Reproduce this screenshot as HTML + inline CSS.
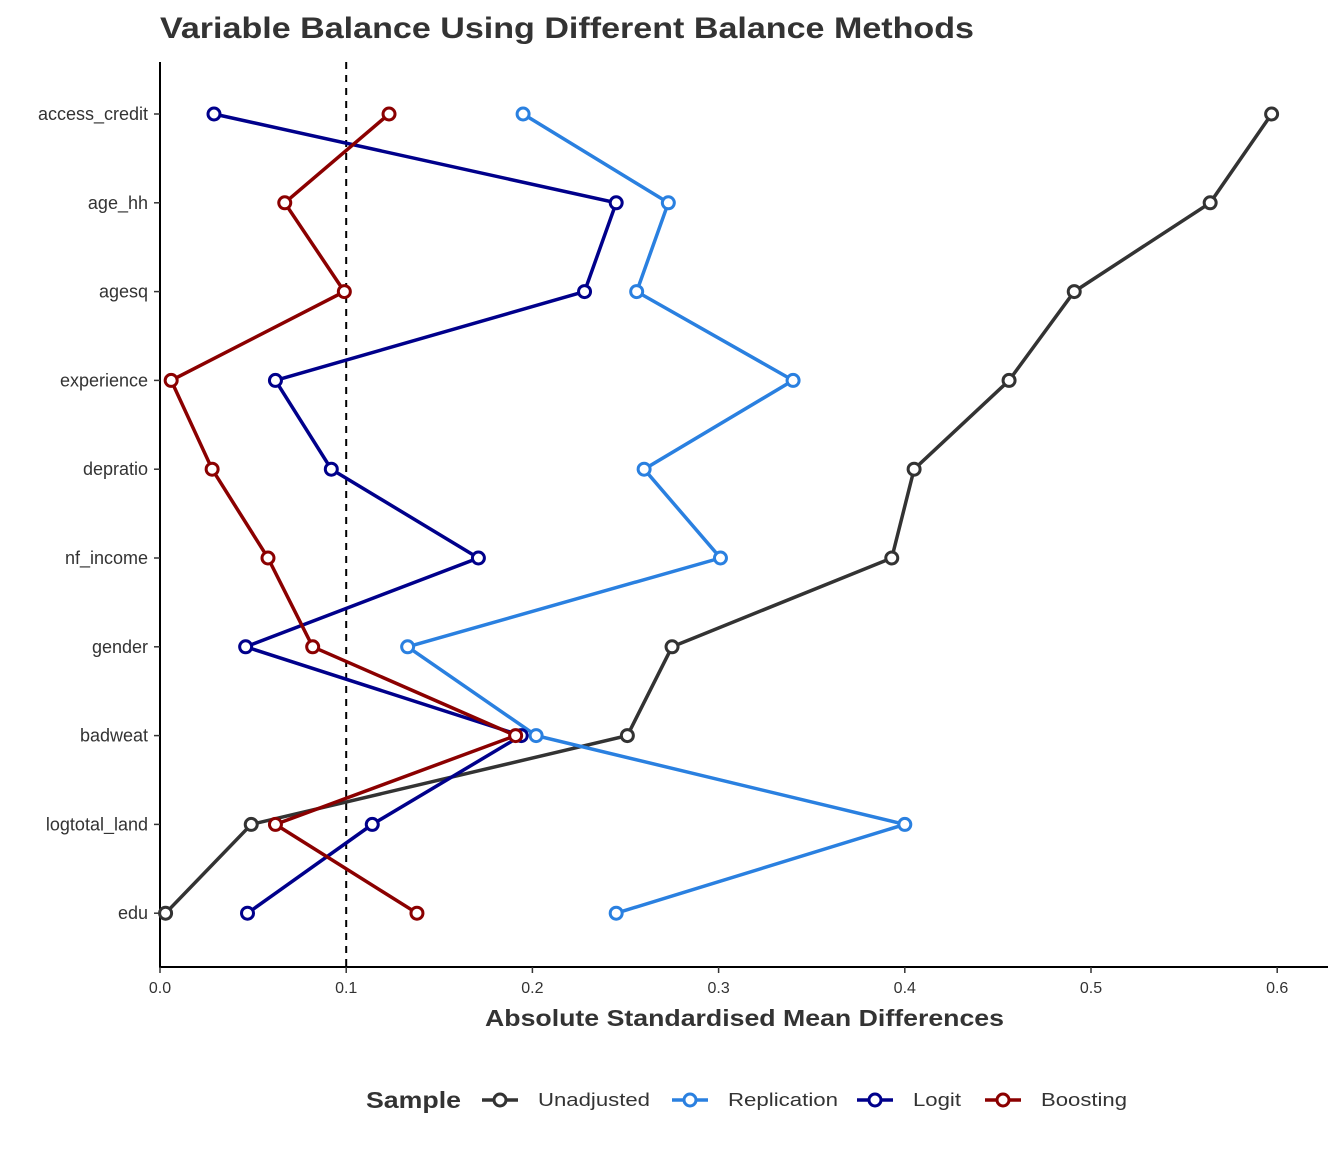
<!DOCTYPE html>
<html><head><meta charset="utf-8"><style>
body{margin:0;background:#fff;font-family:"Liberation Sans",sans-serif;}
svg text{font-family:"Liberation Sans",sans-serif;}
</style></head><body>
<svg id="chart" width="1344" height="1152" xmlns="http://www.w3.org/2000/svg">
<text x="160" y="38" font-size="30" font-weight="bold" fill="#333" textLength="814" lengthAdjust="spacingAndGlyphs">Variable Balance Using Different Balance Methods</text>
<g id="plot"></g>
</svg>
<script>
const categories=["access_credit","age_hh","agesq","experience","depratio","nf_income","gender","badweat","logtotal_land","edu"];
const unadjusted=[0.597,0.564,0.491,0.456,0.405,0.393,0.275,0.251,0.049,0.003];
const replication=[0.195,0.273,0.256,0.340,0.260,0.301,0.133,0.202,0.400,0.245];
const logit=[0.029,0.245,0.228,0.062,0.092,0.171,0.046,0.194,0.114,0.047];
const boosting=[0.123,0.067,0.099,0.006,0.028,0.058,0.082,0.191,0.062,0.138];
const xTicks=[0,0.1,0.2,0.3,0.4,0.5,0.6];
const xTickLabels=["0.0","0.1","0.2","0.3","0.4","0.5","0.6"];
const threshold=0.1;
const seriesNames=["Unadjusted","Replication","Logit","Boosting"];
const seriesColors=["#333333","#2a80e0","#00008b","#8b0000"];
const seriesData=[unadjusted,replication,logit,boosting];

const NS="http://www.w3.org/2000/svg";
const g=document.getElementById('plot');
const x=v=>160+v*1862;
const y=i=>114+i*88.8;
function mk(t,a,p){const e=document.createElementNS(NS,t);for(const k in a)e.setAttribute(k,a[k]);(p||g).appendChild(e);return e;}

let e;
e=mk('line',{x1:160,y1:62,x2:160,y2:967,stroke:'#000','stroke-width':2});


e=mk('line',{x1:159,y1:967,x2:1328,y2:967,stroke:'#000','stroke-width':2});



categories.forEach((c,i)=>{
  e=mk('line',{x1:154,x2:160,y1:y(i),y2:y(i),stroke:'#333','stroke-width':1.5});
  
  
  e=mk('text',{x:148,y:y(i)+6,'text-anchor':'end','font-size':18,fill:'#333'});
  e.textContent=c;
  
  
});
xTicks.forEach((v,i)=>{
  e=mk('line',{x1:x(v),x2:x(v),y1:967,y2:973,stroke:'#333','stroke-width':1.5});
  
  
  e=mk('text',{x:x(v),y:993,'text-anchor':'middle','font-size':16,fill:'#333'});
  e.textContent=xTickLabels[i];
  
  
});
e=mk('text',{x:485,y:1026,'font-size':23,'font-weight':'bold',fill:'#333',textLength:519,lengthAdjust:'spacingAndGlyphs'});
e.textContent='Absolute Standardised Mean Differences';



e=mk('line',{x1:x(threshold),x2:x(threshold),y1:62,y2:967,stroke:'#000','stroke-width':2,'stroke-dasharray':'7,6'});



seriesData.forEach((d,s)=>{
  const pts=d.map((v,i)=>x(v)+','+y(i)).join(' ');
  e=mk('polyline',{points:pts,fill:'none',stroke:seriesColors[s],'stroke-width':3.5});
  
  
  d.forEach((v,i)=>{
    e=mk('circle',{cx:x(v),cy:y(i),r:6,fill:'#fff',stroke:seriesColors[s],'stroke-width':3});
    
    
  });
});

e=mk('text',{x:366,y:1108,'font-size':23,'font-weight':'bold',fill:'#333',textLength:95,lengthAdjust:'spacingAndGlyphs'});
e.textContent='Sample';


const legX=[482,672,857,985];
const legW=[112,110,48,86];
seriesNames.forEach((n,s)=>{
  const lg=mk('g',{});
  
  
  mk('line',{x1:legX[s],x2:legX[s]+36,y1:1100,y2:1100,stroke:seriesColors[s],'stroke-width':3.5},lg);
  mk('circle',{cx:legX[s]+18,cy:1100,r:6,fill:'#fff',stroke:seriesColors[s],'stroke-width':3},lg);
  const t=mk('text',{x:legX[s]+56,y:1106,'font-size':18,fill:'#333',textLength:legW[s],lengthAdjust:'spacingAndGlyphs'},lg);
  t.textContent=n;
});
</script>
</body></html>
